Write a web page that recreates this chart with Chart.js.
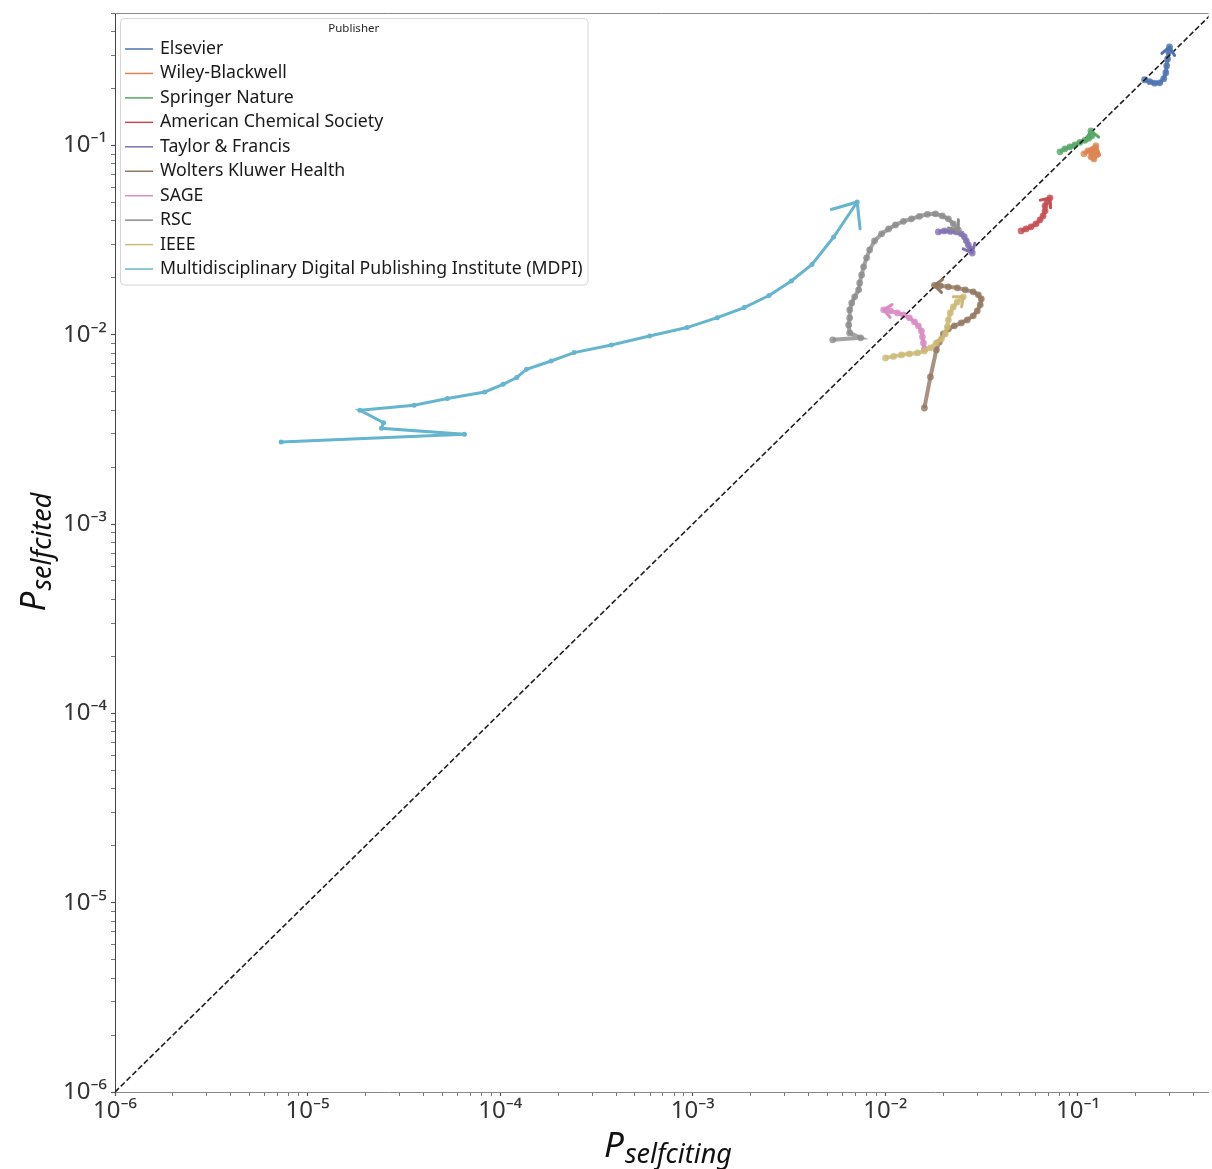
<!DOCTYPE html>
<html>
<head>
  <meta charset="utf-8">
  <title>Self-citing vs self-cited by publisher</title>
  <script src="https://cdn.jsdelivr.net/npm/chart.js@4.4.0/dist/chart.umd.min.js"></script>
  <style>
    html, body { margin: 0; padding: 0; background: #fff; }
    #wrap { width: 1212px; height: 1169px; position: relative; }
  </style>
</head>
<body>
<div id="wrap"><canvas id="chart"></canvas></div>
<script>
  // legend order
  var publishers = ['Elsevier', 'Wiley-Blackwell', 'Springer Nature', 'American Chemical Society',
    'Taylor & Francis', 'Wolters Kluwer Health', 'SAGE', 'RSC', 'IEEE',
    'Multidisciplinary Digital Publishing Institute (MDPI)'];
  var colors = ['#4c72b0', '#dd8452', '#55a868', '#c44e52', '#8172b3',
    '#937860', '#da8bc3', '#8c8c8c', '#ccb974', '#64b5cd'];

  // P_selfciting (x) / P_selfcited (y), one point per year
  var elsevierX = [0.222, 0.236, 0.250, 0.266, 0.279, 0.286, 0.289, 0.292, 0.296, 0.299];
  var elsevierY = [0.222, 0.217, 0.213, 0.214, 0.225, 0.242, 0.263, 0.286, 0.312, 0.331];

  var wileyX = [0.1074, 0.1127, 0.1182, 0.1240, 0.1254, 0.1210, 0.1168, 0.1182, 0.1225, 0.1240];
  var wileyY = [0.0902, 0.0935, 0.0947, 0.0935, 0.0891, 0.0848, 0.0870, 0.0913, 0.0958, 0.0994];

  var springerX = [0.0807, 0.0856, 0.0909, 0.0965, 0.1024, 0.1087, 0.1140, 0.1182, 0.1168];
  var springerY = [0.0924, 0.0958, 0.0982, 0.1006, 0.1037, 0.1063, 0.1089, 0.1122, 0.1193];

  var acsX = [0.0507, 0.0538, 0.0571, 0.0606, 0.0636, 0.0659, 0.0675, 0.0675, 0.0691, 0.0716];
  var acsY = [0.0353, 0.0362, 0.0371, 0.0385, 0.0404, 0.0424, 0.0451, 0.0479, 0.0503, 0.0528];

  var tandfX = [0.01885, 0.02025, 0.02175, 0.02335, 0.0248, 0.0257, 0.02633, 0.02696, 0.02761, 0.02827];
  var tandfY = [0.0349, 0.0353, 0.0351, 0.0349, 0.0341, 0.0329, 0.0313, 0.0298, 0.0284, 0.0270];

  var woltersX = [0.01595, 0.01714, 0.01841, 0.01908, 0.02001, 0.02124, 0.02282, 0.0248, 0.02664, 0.0286,
    0.0300, 0.0311, 0.0315, 0.0304, 0.0286, 0.0260, 0.02364, 0.02124, 0.0193, 0.01798];
  var woltersY = [0.0041, 0.00598, 0.00831, 0.00916, 0.0101, 0.01073, 0.01113, 0.01154, 0.01197, 0.01257,
    0.01335, 0.01437, 0.01545, 0.01623, 0.01683, 0.01725, 0.01767, 0.01789, 0.01811, 0.01822];

  var sageX = [0.01595, 0.01576, 0.01558, 0.0154, 0.01485, 0.01416, 0.01334, 0.01242, 0.01156, 0.01064, 0.00979];
  var sageY = [0.00841, 0.00905, 0.00974, 0.01047, 0.01113, 0.01168, 0.01227, 0.01272, 0.01303, 0.01335, 0.01352];

  var rscX = [0.00533, 0.00744, 0.00653, 0.00645, 0.00653, 0.00653, 0.00669, 0.00693, 0.00727, 0.00736,
    0.00753, 0.00771, 0.00799, 0.00829, 0.00879, 0.00956, 0.01039, 0.01129, 0.01242, 0.01366,
    0.01503, 0.01653, 0.01819, 0.01977, 0.02124, 0.02254, 0.02392];
  var rscY = [0.00939, 0.00962, 0.01022, 0.01126, 0.01227, 0.01352, 0.01472, 0.01584, 0.01725, 0.01877,
    0.02069, 0.02282, 0.02545, 0.02805, 0.0313, 0.0341, 0.0362, 0.0380, 0.0397, 0.0409,
    0.0422, 0.0432, 0.0435, 0.0424, 0.0409, 0.0385, 0.0358];

  var ieeeX = [0.01002, 0.01103, 0.01213, 0.01334, 0.01468, 0.01595, 0.01714, 0.01841, 0.01954, 0.02049,
    0.02099, 0.02124, 0.02175, 0.02254, 0.02364, 0.0254];
  var ieeeY = [0.00754, 0.00768, 0.00782, 0.00792, 0.00801, 0.00821, 0.00852, 0.00905, 0.0095, 0.0101,
    0.011, 0.01197, 0.01303, 0.01402, 0.0149, 0.01584];

  var mdpiX = [7.29e-6, 6.52e-5, 2.42e-5, 2.48e-5, 1.87e-5, 3.57e-5, 5.32e-5, 8.32e-5, 1.035e-4, 1.22e-4,
    1.37e-4, 1.84e-4, 2.42e-4, 3.78e-4, 5.97e-4, 9.33e-4, 1.34e-3, 1.85e-3, 2.49e-3, 3.25e-3,
    4.16e-3, 5.39e-3, 7.14e-3];
  var mdpiY = [2.71e-3, 2.98e-3, 3.20e-3, 3.43e-3, 3.99e-3, 4.24e-3, 4.60e-3, 4.98e-3, 5.47e-3, 5.94e-3,
    6.57e-3, 7.26e-3, 8.04e-3, 8.82e-3, 9.84e-3, 1.09e-2, 1.23e-2, 1.39e-2, 1.61e-2, 1.92e-2,
    2.35e-2, 3.28e-2, 5.02e-2];

  // y = x reference line
  var diagX = [1e-6, 1];
  var diagY = [1e-6, 1];

  // log axes
  var majorTicks = [1e-6, 1e-5, 1e-4, 1e-3, 1e-2, 1e-1];
  var tickLabels = ['10\u207b\u2076', '10\u207b\u2075', '10\u207b\u2074', '10\u207b\u00b3', '10\u207b\u00b2', '10\u207b\u00b9'];
  var minorSteps = [2, 3, 4, 5, 6, 7, 8, 9];

  var seriesX = [elsevierX, wileyX, springerX, acsX, tandfX, woltersX, sageX, rscX, ieeeX, mdpiX];
  var seriesY = [elsevierY, wileyY, springerY, acsY, tandfY, woltersY, sageY, rscY, ieeeY, mdpiY];

  var FONT = '"Noto Sans", "DejaVu Sans", sans-serif';

  function rgba(hex, a) {
    var n = parseInt(hex.slice(1), 16);
    return 'rgba(' + (n >> 16) + ',' + ((n >> 8) & 255) + ',' + (n & 255) + ',' + a + ')';
  }

  function isMajor(v) {
    return majorTicks.some(function (m) { return Math.abs(v - m) / m < 1e-6; });
  }

  function logTicks(scale) {
    var out = [];
    majorTicks.forEach(function (m) {
      out.push(m);
      minorSteps.forEach(function (k) { out.push(m * k); });
    });
    scale.ticks = out.filter(function (v) { return v >= scale.min * 0.9999 && v <= scale.max * 1.0001; })
      .map(function (v) { return { value: v, major: isMajor(v) }; });
  }

  function tickLabel(v) {
    for (var i = 0; i < majorTicks.length; i++) {
      if (Math.abs(v - majorTicks[i]) / majorTicks[i] < 1e-6) return tickLabels[i];
    }
    return '';
  }

  var datasets = publishers.map(function (name, i) {
    var mdpi = i === 9;
    var c = mdpi ? colors[i] : rgba(colors[i], 0.8);
    return {
      label: name,
      data: seriesX[i].map(function (x, j) { return { x: x, y: seriesY[i][j] }; }),
      showLine: true,
      borderColor: c,
      backgroundColor: c,
      borderWidth: mdpi ? 3 : 4,
      pointRadius: mdpi ? 2.5 : 3.4,
      pointBorderWidth: 0,
      pointHoverRadius: 0,
      tension: 0,
      arrowSize: mdpi ? 27 : 10,
      arrowColor: colors[i],
      order: 20 - i
    };
  });
  datasets.push({
    label: 'y = x',
    data: diagX.map(function (x, j) { return { x: x, y: diagY[j] }; }),
    showLine: true,
    borderColor: '#1f1f1f',
    borderWidth: 1.6,
    borderDash: [5.5, 2.6],
    pointRadius: 0,
    order: 0
  });

  // open "->" heads on the last segment of each trajectory
  var arrowHeads = {
    id: 'arrowHeads',
    afterDatasetsDraw: function (chart) {
      var ctx = chart.ctx;
      chart.data.datasets.forEach(function (ds, i) {
        if (!ds.arrowSize) return;
        var pts = chart.getDatasetMeta(i).data;
        var a = pts[pts.length - 2], b = pts[pts.length - 1];
        var ang = Math.atan2(b.y - a.y, b.x - a.x);
        var len = ds.arrowSize, spread = 0.7;
        ctx.save();
        ctx.strokeStyle = ds.arrowColor;
        ctx.lineWidth = 3;
        ctx.lineCap = 'round';
        ctx.lineJoin = 'round';
        ctx.beginPath();
        ctx.moveTo(b.x - len * Math.cos(ang - spread), b.y - len * Math.sin(ang - spread));
        ctx.lineTo(b.x, b.y);
        ctx.lineTo(b.x - len * Math.cos(ang + spread), b.y - len * Math.sin(ang + spread));
        ctx.stroke();
        ctx.restore();
      });
    }
  };

  // legend box in the upper left of the plot
  var publisherLegend = {
    id: 'publisherLegend',
    afterDatasetsDraw: function (chart) {
      var ctx = chart.ctx;
      var x0 = 120, y0 = 18, rowTop = 49, rowStep = 24.45;
      var items = chart.data.datasets.filter(function (d) { return d.arrowSize; });
      ctx.save();
      ctx.font = '17.7px ' + FONT;
      var maxW = 0;
      items.forEach(function (d) { maxW = Math.max(maxW, ctx.measureText(d.label).width); });
      var x1 = 160 + maxW + 5;
      var y1 = rowTop + (items.length - 1) * rowStep + 15.5;
      ctx.beginPath();
      ctx.roundRect(x0 + 0.5, y0 + 0.5, x1 - x0, y1 - y0, 4);
      ctx.fillStyle = 'rgba(255,255,255,0.85)';
      ctx.fill();
      ctx.strokeStyle = '#d6d6d6';
      ctx.lineWidth = 1;
      ctx.stroke();

      ctx.fillStyle = '#262626';
      ctx.textBaseline = 'middle';
      ctx.textAlign = 'center';
      ctx.font = '11.5px ' + FONT;
      ctx.fillText('Publisher', (x0 + x1) / 2, 29);

      ctx.textAlign = 'left';
      ctx.font = '17.7px ' + FONT;
      items.forEach(function (d, i) {
        var y = rowTop + i * rowStep;
        ctx.strokeStyle = d.arrowColor;
        ctx.lineWidth = 1.5;
        ctx.beginPath();
        ctx.moveTo(125, y);
        ctx.lineTo(153, y);
        ctx.stroke();
        ctx.fillStyle = '#1a1a1a';
        ctx.fillText(d.label, 160, y);
      });
      ctx.restore();
    }
  };

  // italic P with a subscript, as the axis titles, plus the top spine
  function subTitle(ctx, sub, cx, base) {
    ctx.font = 'italic 35px ' + FONT;
    var wP = ctx.measureText('P').width;
    ctx.font = 'italic 27px ' + FONT;
    var wS = ctx.measureText(sub).width;
    var x = cx - (wP + wS + 1) / 2;
    ctx.font = 'italic 35px ' + FONT;
    ctx.fillText('P', x, base);
    ctx.font = 'italic 27px ' + FONT;
    ctx.fillText(sub, x + wP + 1, base + 6);
  }

  var axisTitles = {
    id: 'axisTitles',
    afterDraw: function (chart) {
      var ctx = chart.ctx, area = chart.chartArea;
      ctx.save();
      ctx.strokeStyle = '#888';
      ctx.lineWidth = 1;
      ctx.beginPath();
      ctx.moveTo(area.left, area.top + 0.5);
      ctx.lineTo(area.right, area.top + 0.5);
      ctx.stroke();

      ctx.fillStyle = '#111';
      ctx.textAlign = 'left';
      ctx.textBaseline = 'alphabetic';
      subTitle(ctx, 'selfciting', 668, 1157);
      ctx.translate(45, 552);
      ctx.rotate(-Math.PI / 2);
      subTitle(ctx, 'selfcited', 0, 0);
      ctx.restore();
    }
  };

  function axis(max, pos) {
    return {
      type: 'logarithmic',
      position: pos,
      min: 1e-6,
      max: max,
      afterBuildTicks: logTicks,
      afterFit: function (s) {
        if (pos === 'left') s.width = 115; else s.height = 77;
        s.paddingTop = 0;
        s.paddingBottom = 0;
        s.paddingRight = 0;
      },
      border: { display: true, color: pos === 'left' ? '#444' : '#888', width: 1 },
      grid: {
        drawOnChartArea: false,
        drawTicks: true,
        tickLength: 4,
        tickColor: '#555',
        tickWidth: function (c) { return c.tick && c.tick.major ? 1.2 : 0.8; }
      },
      ticks: {
        autoSkip: false,
        maxRotation: 0,
        padding: pos === 'left' ? 4 : 1,
        color: '#333',
        font: { family: FONT, size: 24 },
        callback: tickLabel
      },
      title: { display: false }
    };
  }

  new Chart(document.getElementById('chart'), {
    type: 'scatter',
    data: { datasets: datasets },
    options: {
      responsive: true,
      maintainAspectRatio: false,
      devicePixelRatio: 1,
      animation: false,
      layout: { padding: { top: 13, right: 0, bottom: 0, left: 0 } },
      scales: {
        x: axis(0.477, 'bottom'),
        y: axis(0.5, 'left')
      },
      plugins: {
        legend: { display: false },
        tooltip: { enabled: false }
      }
    },
    plugins: [arrowHeads, publisherLegend, axisTitles]
  });
</script>
</body>
</html>
